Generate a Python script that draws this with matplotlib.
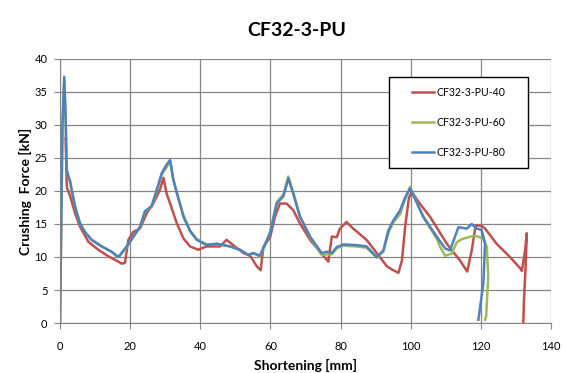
import matplotlib
matplotlib.use("Agg")
import matplotlib.pyplot as plt
from matplotlib.patches import Rectangle

plt.rcParams['font.family'] = ['Lato', 'DejaVu Sans']

# --- crushing force vs shortening, three specimens ---
x_40 = [1.6, 1.9, 2.0, 2.9, 4.3, 5.7, 8.1, 10.9, 13.8, 16.6, 17.6,
        18.5, 19.5, 20.9, 22.8, 24.7, 26.6, 28.5, 29.5, 30.4, 31.4, 33.3, 35.2,
        37.1, 39.4, 41.8, 45.6, 47.5, 49.4, 52.3, 54.2, 56.1, 57.2, 58.0, 59.9,
        61.3, 62.7, 64.6, 66.5, 68.4, 71.3, 74.1, 76.5, 77.5, 78.9, 79.8, 81.7,
        83.6, 87.4, 90.3, 93.2, 95.0, 96.5, 97.5, 98.5, 99.5, 100.3, 102.0,
        105.5, 110.3, 114.0, 116.1, 117.4, 118.3, 118.8, 120.2, 121.2, 124.5,
        128.3, 131.2, 131.7, 132.6, 133.1, 132.8, 132.3, 132.1]
f_40 = [28, 21.2, 20.5, 19.2, 16.6, 14.6, 12.3, 11.1, 10.1, 9.3, 9.0,
        9.1, 12.6, 13.8, 14.3, 16.6, 18.1, 20.2, 22.0, 19.6, 18.1, 15.1, 12.8,
        11.6, 11.1, 11.6, 11.6, 12.6, 11.8, 10.6, 10.2, 8.6, 8.0, 11.5, 13.0,
        16.1, 18.1, 18.1, 17.1, 15.1, 12.6, 10.8, 9.3, 13.1, 13.0, 14.3, 15.3,
        14.3, 12.6, 10.6, 8.6, 8.0, 7.6, 9.5, 15.0, 19.0, 19.9, 18.5,
        16.1, 12.0, 9.5, 7.8, 11.0, 14.1, 14.8, 14.7, 14.3, 12.0,
        10.0, 8.3, 7.9, 11.0, 13.6, 9.0, 3.5, 0]

x_60 = [0, 0.7, 1.2, 1.6, 1.9, 2.4, 2.9, 3.3, 4.3, 5.7, 7.1, 9.0, 11.9, 14.7,
        16.6, 17.1, 19.0, 20.9, 22.8, 24.2, 26.1, 27.6, 29.0, 30.4, 31.4, 32.3,
        33.3, 35.2, 37.1, 39.0, 41.8, 44.7, 48.5, 51.3, 53.7, 55.1, 57.0, 58.5,
        59.9, 61.8, 63.7, 65.1, 66.5, 68.4, 71.3, 74.6, 76.1, 77.5, 78.9, 80.8,
        84.6, 87.4, 90.3, 92.2, 93.6, 95.0, 97.0, 98.4, 99.8, 103.6, 107.4,
        108.4, 109.8, 111.7, 113.1, 114.5, 117.9, 119.3, 120.7, 121.7, 122.1,
        121.5, 121.2]
f_60 = [0, 30, 36.8, 31.3, 23.2, 22.2, 21.4, 20.2, 17.6, 15.1, 13.8, 12.6, 11.6,
        10.8, 10.0, 10.2, 11.5, 13.0, 14.5, 16.8, 17.6, 20.0, 22.5, 23.6, 24.5,
        21.8, 19.8, 16.3, 14.0, 12.7, 11.9, 12.0, 11.6, 11.1, 10.3, 10.6, 10.1,
        11.8, 13.8, 18.3, 19.5, 22.2, 19.8, 16.2, 13.0, 10.3, 10.4, 10.4, 11.3,
        11.7, 11.6, 11.4, 9.9, 10.8, 13.6, 15.2, 16.5, 18.8, 20.6, 16.0, 12.8,
        11.5, 10.2, 10.5, 12.2, 12.7, 13.2, 13.1, 12.7, 11.5, 7.0,
        1.0, 0.5]

x_80 = [0, 0.7, 1.2, 1.6, 1.9, 2.4, 2.9, 3.3, 4.3, 5.7, 7.1, 9.0, 11.9, 14.7,
        16.6, 17.1, 19.0, 20.9, 22.8, 24.2, 26.1, 27.6, 29.0, 30.4, 31.4, 32.3,
        33.3, 35.2, 37.1, 39.0, 41.8, 44.7, 48.5, 51.3, 53.7, 55.1, 57.0, 58.5,
        59.9, 61.8, 63.7, 65.1, 66.5, 68.4, 71.3, 74.6, 76.1, 77.5, 78.9, 80.8,
        84.6, 87.4, 90.3, 92.2, 93.6, 95.0, 96.9, 98.4, 99.8, 103.6, 107.4,
        109.8, 111.2, 113.6, 116.0, 117.4, 118.8, 120.2, 121.2, 120.7, 119.3]
f_80 = [0, 30, 37.3, 31.3, 23.2, 22.2, 21.4, 20.2, 17.6, 15.1, 13.8, 12.6, 11.6,
        10.8, 10.0, 10.3, 11.6, 13.1, 14.6, 16.9, 17.7, 20.2, 22.7, 24.0, 24.7,
        21.7, 19.7, 16.1, 13.9, 12.6, 11.8, 12.0, 11.6, 11.1, 10.3, 10.6, 10.2,
        12.0, 13.6, 18.1, 19.2, 21.9, 19.6, 16.1, 13.1, 10.6, 10.8, 10.6, 11.5,
        11.9, 11.8, 11.6, 10.0, 11.0, 14.0, 15.5, 17.0, 19.0, 20.4, 16.1, 13.1,
        11.3, 11.0, 14.5, 14.3, 15.0, 14.3, 14.1, 12.1, 6.0, 0.5]

labels = ['CF32-3-PU-40', 'CF32-3-PU-60', 'CF32-3-PU-80']
colors = ['#C0504D', '#9BBB59', '#4F81BD']

fig = plt.figure(figsize=(5.63, 3.73), dpi=100)
ax = fig.add_axes([0.1066, 0.134, 0.8721, 0.708])

for xs, fs, lab, c in zip([x_40, x_60, x_80], [f_40, f_60, f_80], labels, colors):
    ax.plot(xs, fs, color=c, lw=1.8, label=lab)

ax.set_xlim(0, 140)
ax.set_ylim(0, 40)
ax.set_xticks(range(0, 141, 20))
ax.set_yticks(range(0, 41, 5))
ax.grid(True, color='#868686', lw=0.9)
ax.set_axisbelow(True)
for side in ['top', 'right']:
    ax.spines[side].set_visible(False)
for side in ['left', 'bottom']:
    ax.spines[side].set_color('#868686')
ax.tick_params(direction='out', length=4, color='#868686', labelsize=8)
ax.tick_params(axis='x', pad=9)
ax.tick_params(axis='y', pad=5)

ax.set_xlabel('Shortening [mm]', fontsize=10, fontweight='bold', labelpad=5)
ax.set_ylabel('Crushing  Force [kN]', fontsize=10, fontweight='bold', labelpad=2)
fig.text(0.527, 0.918, 'CF32-3-PU', ha='center', va='center', fontsize=14, fontweight='bold')

# legend box drawn separately so the side padding can be wider than the top
box = Rectangle((0.670, 0.587), 0.283, 0.345, transform=ax.transAxes,
                facecolor='white', edgecolor='black', lw=1.0, zorder=4)
ax.add_patch(box)
leg = ax.legend(loc='center', bbox_to_anchor=(0.8115, 0.7595), fontsize=7.6,
                frameon=False, labelspacing=1.8, handlelength=2.1,
                handletextpad=0.25, borderaxespad=0)
leg.set_zorder(5)

fig.savefig('out.png', dpi=100)
